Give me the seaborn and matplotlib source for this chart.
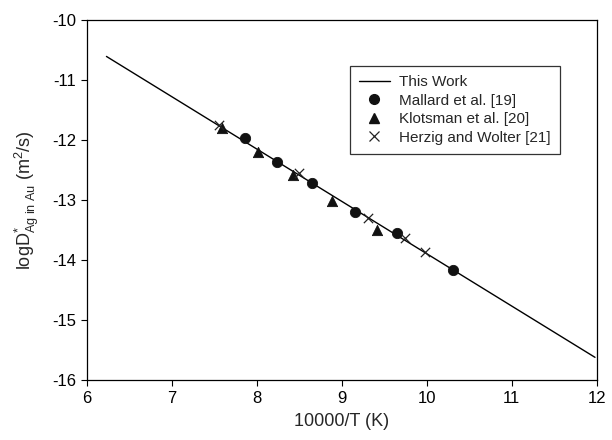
import matplotlib
matplotlib.use("Agg")
import matplotlib.pyplot as plt
import seaborn as sns
import pandas as pd
from matplotlib.lines import Line2D

# Data
line_x = [6.23, 11.98]
line_y = [-10.61, -15.62]

mallard_x = [7.86, 8.24, 8.65, 9.16, 9.65, 10.31]
mallard_y = [-11.97, -12.37, -12.72, -13.20, -13.55, -14.17]

klotsman_x = [7.59, 8.01, 8.42, 8.89, 9.41]
klotsman_y = [-11.80, -12.20, -12.58, -13.02, -13.50]

herzig_x = [7.56, 8.50, 9.31, 9.74, 9.98]
herzig_y = [-11.75, -12.55, -13.30, -13.63, -13.87]

x_ticks = [6, 7, 8, 9, 10, 11, 12]
y_ticks = [-16, -15, -14, -13, -12, -11, -10]

sns.set_style("ticks")
plt.rcParams['font.family'] = ['Liberation Sans', 'DejaVu Sans']
plt.rcParams['axes.unicode_minus'] = False
plt.rcParams['mathtext.fontset'] = 'custom'
plt.rcParams['mathtext.rm'] = 'Liberation Sans'
plt.rcParams['mathtext.it'] = 'Liberation Sans'
plt.rcParams['mathtext.bf'] = 'Liberation Sans:bold'

fig = plt.figure(figsize=(6.12, 4.40), dpi=100)
ax = fig.add_axes([0.142, 0.136, 0.833, 0.819])

df_line = pd.DataFrame({"x": line_x, "y": line_y})
sns.lineplot(data=df_line, x="x", y="y", ax=ax, color="black", linewidth=1.0)

sns.scatterplot(x=mallard_x, y=mallard_y, ax=ax, marker="o", s=55, color="#111111",
                edgecolor="#111111", zorder=3)
sns.scatterplot(x=klotsman_x, y=klotsman_y, ax=ax, marker="^", s=55, color="#111111",
                edgecolor="#111111", zorder=3)
sns.scatterplot(x=herzig_x, y=herzig_y, ax=ax, marker="x", s=45, color="#222222",
                linewidth=0.9, zorder=3)

ax.set_xlim(6, 12)
ax.set_ylim(-16, -10)
ax.set_xticks(x_ticks)
ax.set_yticks(y_ticks)
ax.tick_params(axis="both", direction="out", length=4, width=0.8, labelsize=12,
               colors="black", top=False, right=False)
for sp in ax.spines.values():
    sp.set_color("black")
    sp.set_linewidth(0.9)

ax.set_xlabel("10000/T (K)", fontsize=13, labelpad=5)
ax.set_ylabel(r"logD$^{*}_{\rm Ag\ in\ Au}$ (m$^{2}$/s)", fontsize=13, labelpad=8)

handles = [
    Line2D([], [], color="black", linewidth=1.0),
    Line2D([], [], color="#111111", marker="o", linestyle="none", markersize=7),
    Line2D([], [], color="#111111", marker="^", linestyle="none", markersize=7),
    Line2D([], [], color="#222222", marker="x", linestyle="none", markersize=7, markeredgewidth=0.9),
]
labels = ["This Work", "Mallard et al. [19]", "Klotsman et al. [20]", "Herzig and Wolter [21]"]
leg = ax.legend(handles, labels, loc="upper left", bbox_to_anchor=(0.516, 0.872),
                borderaxespad=0,
                fontsize=11, frameon=True, fancybox=False, edgecolor="black",
                handlelength=2.0, borderpad=0.6, labelspacing=0.3, handletextpad=0.6)
leg.get_frame().set_linewidth(0.9)

fig.savefig("out.png", dpi=100)
